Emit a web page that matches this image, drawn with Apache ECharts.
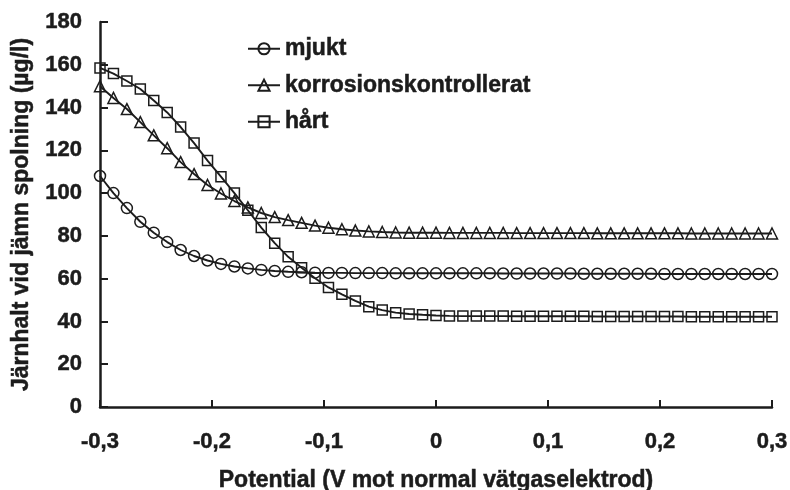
<!DOCTYPE html>
<html>
<head>
<meta charset="utf-8">
<script src="https://cdn.jsdelivr.net/npm/echarts@6/dist/echarts.min.js"></script>
<style>html,body{margin:0;padding:0;background:#fff;}#c{width:790px;height:490px;}</style>
</head>
<body>
<div id="c"></div>
<script>
var potentials = [-0.300,-0.288,-0.276,-0.264,-0.252,-0.240,-0.228,-0.216,-0.204,-0.192,-0.180,-0.168,-0.156,-0.144,-0.132,-0.120,-0.108,-0.096,-0.084,-0.072,-0.060,-0.048,-0.036,-0.024,-0.012,0.000,0.012,0.024,0.036,0.048,0.060,0.072,0.084,0.096,0.108,0.120,0.132,0.144,0.156,0.168,0.180,0.192,0.204,0.216,0.228,0.240,0.252,0.264,0.276,0.288,0.300];
var mjukt = [108,100,93,86.6,81.5,77.1,73.4,70.6,68.5,66.9,65.7,64.8,64.1,63.6,63.2,63.0,62.8,62.7,62.7,62.6,62.6,62.6,62.5,62.5,62.5,62.5,62.5,62.5,62.5,62.5,62.4,62.4,62.4,62.4,62.4,62.4,62.3,62.3,62.3,62.3,62.3,62.3,62.2,62.2,62.2,62.2,62.2,62.2,62.2,62.2,62.2];
var korrosion = [150,144.5,139.3,133.2,127,121,114.5,108.9,103.8,99.8,96.3,93.3,90.7,88.8,87.4,86.1,84.8,83.8,83.1,82.5,82.1,81.8,81.6,81.5,81.5,81.5,81.4,81.4,81.4,81.4,81.4,81.3,81.3,81.3,81.3,81.3,81.3,81.2,81.2,81.2,81.2,81.2,81.2,81.2,81.1,81.1,81.1,81.1,81.1,81.1,81.1];
var hart = [158.5,155.9,152.4,148.7,143.3,137.7,130.9,123.4,115.2,107.7,100,92,83.9,76.6,70.2,65.1,60.2,55.9,52.7,49.6,46.9,45.3,44.1,43.5,43.1,42.8,42.6,42.5,42.5,42.5,42.5,42.4,42.4,42.4,42.4,42.4,42.4,42.3,42.3,42.3,42.3,42.3,42.3,42.3,42.2,42.2,42.2,42.2,42.2,42.2,42.2];
var seriesNames = ['mjukt','korrosionskontrollerat','hårt'];
var xName = 'Potential (V mot normal vätgaselektrod)';
var yName = 'Järnhalt vid jämn spolning (µg/l)';

function pairs(ys){ return potentials.map(function(x,i){ return [x, ys[i]]; }); }
var ink = '#1c1c1c';
var font = 'Liberation Sans';
function txt(size){ return {fontFamily: font, fontWeight: 'bold', fontSize: size, color: ink, textBorderColor: ink, textBorderWidth: 0.5}; }
function mk(name, data, symbol, size){
  return {
    name: name, type: 'line', data: pairs(data), symbol: symbol, symbolSize: size,
    showAllSymbol: true,
    lineStyle: {color: ink, width: 1.9},
    itemStyle: {color: 'rgba(255,255,255,0)', borderColor: ink, borderWidth: 1.5},
    emphasis: {disabled: true}, animation: false
  };
}
var chart = echarts.init(document.getElementById('c'), null, {renderer: 'canvas'});
var nameStyle = txt(23);
var tickStyle = txt(22);
chart.setOption({
  animation: false,
  backgroundColor: '#fff',
  grid: {left: 100, right: 18, top: 22, bottom: 83, containLabel: false, outerBoundsMode: 'none'},
  legend: {
    orient: 'vertical', left: 247, top: 37, padding: 0, itemGap: 13, itemWidth: 32, itemHeight: 14,
    textStyle: txt(23),
    data: seriesNames
  },
  xAxis: {
    type: 'value', min: -0.3, max: 0.3, interval: 0.1,
    name: xName, nameLocation: 'middle', nameGap: 62,
    nameTextStyle: nameStyle,
    axisLine: {show: true, onZero: false, lineStyle: {color: ink, width: 2.5}},
    axisTick: {show: true, inside: true, length: 7, lineStyle: {color: ink, width: 2}},
    axisLabel: Object.assign({margin: 24,
      formatter: function(v){ if (Math.abs(v) < 1e-9) return '0'; return v.toFixed(1).replace('.', ','); }}, tickStyle),
    splitLine: {show: false}
  },
  yAxis: {
    type: 'value', min: 0, max: 180, interval: 20,
    name: yName, nameLocation: 'middle', nameGap: 67, nameRotate: 90,
    nameTextStyle: nameStyle,
    axisLine: {show: true, onZero: false, lineStyle: {color: ink, width: 2.5}},
    axisTick: {show: true, inside: true, length: 8, lineStyle: {color: ink, width: 2}},
    axisLabel: Object.assign({margin: 18}, tickStyle),
    splitLine: {show: false}
  },
  series: [
    mk(seriesNames[0], mjukt, 'circle', 11),
    mk(seriesNames[1], korrosion, 'triangle', 11),
    mk(seriesNames[2], hart, 'rect', 10)
  ]
});
</script>
</body>
</html>
